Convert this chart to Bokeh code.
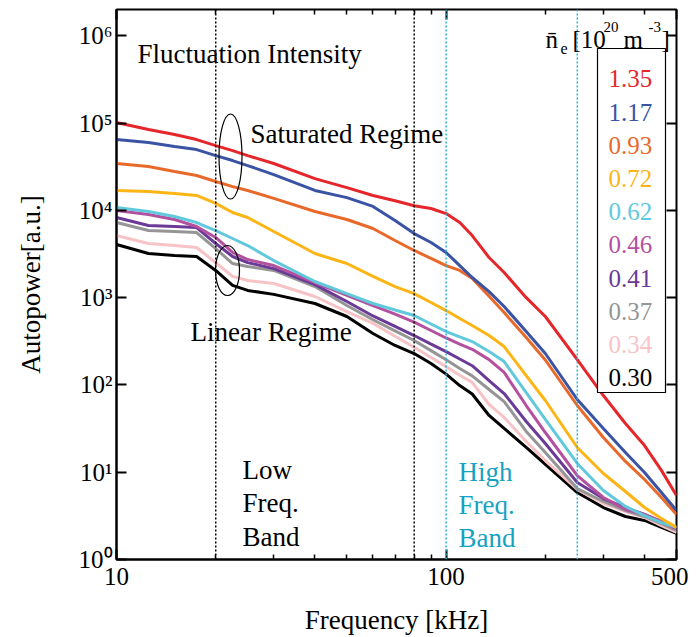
from bokeh.plotting import figure
from bokeh.models import Span, Label, FixedTicker, BoxAnnotation, LogAxis, Range1d, CustomJSTickFormatter
from bokeh.embed import file_html
from bokeh.resources import INLINE
import math

# ---------------- data ----------------
freq_khz = [10, 12.5, 15, 17.5, 20, 22.5, 25, 30, 40, 50, 60, 70, 80, 90, 100,
            110, 120, 135, 150, 175, 200, 250, 300, 350, 400, 450, 500]

density_labels = ["1.35", "1.17", "0.93", "0.72", "0.62", "0.46", "0.41", "0.37", "0.34", "0.30"]
colors = ["#e5262b", "#3b53a4", "#e8692a", "#fdb515", "#62c9dd",
          "#b3519f", "#6b3a97", "#959595", "#f7c3c6", "#000000"]

p_135 = [101400, 84300, 73900, 64700, 55200, 48400, 42400, 34400, 23100, 18200, 14800, 12900, 11300, 10500, 9190,
         7250, 5140, 2880, 1940, 1000, 608, 195, 75.6, 36.1, 20.2, 10.5, 5.41]
p_117 = [64700, 59800, 53800, 49700, 42400, 37200, 32600, 25700, 16900, 14000, 11100, 7640, 5420, 4280, 3290,
         2330, 1700, 1170, 791, 409, 229, 68.1, 31.7, 16.8, 9.93, 5.85, 3.64]
p_093 = [34400, 31800, 27800, 25100, 21400, 18700, 16900, 13700, 9690, 7850, 6200, 4510, 3470, 2810, 2330,
         2050, 1660, 1040, 675, 349, 193, 58.1, 25.0, 13.3, 8.25, 5.13, 3.28]
p_072 = [16900, 16400, 15600, 14800, 12000, 9440, 8280, 5720, 3200, 2460, 1750, 1340, 1110, 879, 711,
         577, 480, 368, 275, 128, 66.3, 19.2, 9.66, 6.01, 3.94, 2.95, 2.33]
p_062 = [10800, 9690, 8500, 7250, 5870, 4760, 3950, 2660, 1530, 1110, 857, 721, 624, 499, 409,
         356, 314, 241, 185, 81.8, 40.2, 12.6, 6.17, 4.05, 3.19, 2.65, 2.33]
p_046 = [9950, 8960, 7850, 6530, 4890, 3290, 2730, 2330, 1490, 1060, 812, 646, 523, 420, 345,
         294, 256, 195, 139, 58.1, 28.5, 9.16, 5.13, 3.74, 3.28, 2.72, 2.27]
p_041 = [8280, 6700, 6530, 6350, 4170, 2960, 2520, 2150, 1410, 902, 617, 468, 368, 294, 241,
         198, 166, 112, 79.7, 38.1, 21.3, 7.62, 4.99, 3.94, 3.28, 2.72, 2.27]
p_037 = [7250, 5870, 5720, 5570, 3650, 2460, 2270, 2050, 1340, 812, 558, 416, 323, 247, 194,
         154, 127, 88.6, 64.5, 29.3, 16.8, 6.50, 4.62, 3.64, 3.11, 2.58, 2.15]
p_034 = [5140, 4170, 3950, 3750, 2520, 1750, 1570, 1450, 1030, 693, 507, 361, 270, 206, 162,
         129, 107, 59.7, 42.4, 22.5, 13.6, 6.34, 4.38, 3.55, 3.03, 2.45, 2.04]
p_030 = [4060, 3200, 3030, 2960, 2050, 1380, 1210, 1090, 857, 608, 388, 283, 229, 176, 133,
         98.4, 78.7, 44.7, 31.7, 19.2, 12.3, 5.85, 3.94, 3.11, 2.80, 2.33, 1.99]

series = [p_135, p_117, p_093, p_072, p_062, p_046, p_041, p_037, p_034, p_030]

x_tick_values = [10, 100, 500]
x_tick_labels = ["10", "100", "500"]
x_minor_ticks = [20, 30, 40, 50, 60, 70, 80, 90, 200, 300, 400]
y_tick_values = [1, 10, 100, 1000, 10000, 100000, 1000000]
y_tick_labels = ["10\u2070", "10\u00b9", "10\u00b2", "10\u00b3", "10\u2074", "10\u2075", "10\u2076"]

low_band_edges = [20, 80]
high_band_edges = [100, 250]

# ---------------- figure ----------------
FONT = "Liberation Serif"
X_MIN, X_MAX = 10, 500
Y_MIN, Y_MAX = 1, 2.0e6
FW, FH = 560, 550

p = figure(x_axis_type="log", y_axis_type="log",
           x_range=Range1d(X_MIN, X_MAX), y_range=Range1d(Y_MIN, Y_MAX),
           frame_width=FW, frame_height=FH,
           min_border_left=116, min_border_right=12, min_border_top=9, min_border_bottom=70,
           output_backend="svg", toolbar_location=None)
p.xgrid.visible = False
p.ygrid.visible = False
p.outline_line_color = "black"
p.outline_line_width = 2
p.background_fill_color = "white"
p.border_fill_color = "white"

# helpers: place annotations at positions measured in the reference picture
FRAME_L, FRAME_B = 116, 559
def fx(px):
    return 10 ** (math.log10(X_MIN) + (px - FRAME_L) / FW * (math.log10(X_MAX) - math.log10(X_MIN)))
def fy(py):
    return 10 ** (math.log10(Y_MIN) + (FRAME_B - py) / FH * (math.log10(Y_MAX) - math.log10(Y_MIN)))

def style_axis(ax):
    ax.axis_line_width = 2
    ax.axis_line_color = "black"
    ax.major_tick_in = 10
    ax.major_tick_out = 0
    ax.minor_tick_in = 5
    ax.minor_tick_out = 0
    ax.major_tick_line_width = 2
    ax.major_tick_line_color = "black"
    ax.minor_tick_line_width = 1.5
    ax.minor_tick_line_color = "black"
    ax.major_label_text_font = FONT
    ax.major_label_text_font_size = "25px"
    ax.major_label_text_color = "black"
    ax.major_label_standoff = 8
    ax.axis_label_text_font = FONT
    ax.axis_label_text_font_style = "normal"
    ax.axis_label_text_font_size = "27px"
    ax.axis_label_text_color = "black"

xa = p.xaxis[0]
ya = p.yaxis[0]
xa.ticker = FixedTicker(ticks=x_tick_values, minor_ticks=x_minor_ticks)
ya.ticker = FixedTicker(ticks=y_tick_values, minor_ticks=[])
xa.major_label_overrides = dict(zip(x_tick_values, x_tick_labels))
ya.major_label_overrides = dict(zip(y_tick_values, y_tick_labels))
style_axis(xa)
style_axis(ya)
ya.major_label_standoff = 4
xa.axis_label = "Frequency [kHz]"
ya.axis_label = "Autopower[a.u.]"
xa.axis_label_standoff = 17
ya.axis_label_standoff = 30

blank = CustomJSTickFormatter(code="return ''")
top = LogAxis(ticker=FixedTicker(ticks=x_tick_values, minor_ticks=x_minor_ticks), formatter=blank)
right = LogAxis(ticker=FixedTicker(ticks=y_tick_values, minor_ticks=[]), formatter=blank)
for ax in (top, right):
    style_axis(ax)
    ax.major_label_standoff = 0
    ax.major_label_text_font_size = "10px"
    ax.axis_line_color = None
p.add_layout(top, "above")
p.add_layout(right, "right")

# band boundaries
for f in low_band_edges:
    p.add_layout(Span(location=f, dimension="height", line_color="black",
                      line_dash="2 2", line_width=1.5))
for f in high_band_edges:
    p.add_layout(Span(location=f, dimension="height", line_color="#27b4d8",
                      line_dash="2 2", line_width=1.5))

# spectra (lowest density drawn first)
for vals, c in reversed(list(zip(series, colors))):
    p.line(freq_khz, vals, line_color=c, line_width=3)

# regime ellipses
p.ellipse(x=[fx(230), fx(227)], y=[fy(156), fy(270)], width=[23, 24], height=[85, 50],
          width_units="screen", height_units="screen",
          fill_color=None, line_color="black", line_width=1.2)

def add_text(px, py, txt, color="black", size="27px"):
    p.add_layout(Label(x=fx(px), y=fy(py), text=txt, text_color=color,
                       text_font=FONT, text_font_size=size, text_baseline="alphabetic",
                       text_align="left"))

add_text(137, 53, "Fluctuation Intensity")
add_text(250, 133, "Saturated Regime")
add_text(190, 331, "Linear Regime")
for i, w in enumerate(["Low", "Freq.", "Band"]):
    add_text(242, 469 + 33.5 * i, w)
for i, w in enumerate(["High", "Freq.", "Band"]):
    add_text(458, 471 + 33 * i, w, color="#17a2c2")

# legend box
p.add_layout(BoxAnnotation(left=fx(597), right=fx(665), top=fy(48), bottom=fy(392),
                           fill_color="white", fill_alpha=1.0,
                           line_color="black", line_width=1.2, line_alpha=1.0))
for i, (lab, c) in enumerate(zip(density_labels, colors)):
    add_text(608, 78.3 + 33.2 * i, lab, color=c, size="25px")

# legend header: n̄e [10^20 m^-3]
add_text(545, 39, "n\u0304", size="25px")
add_text(560, 48, "e", size="16px")
add_text(572, 39, "[10", size="25px")
add_text(603, 26, "20", size="15px")
add_text(623, 39, "m", size="25px")
add_text(648, 26, "-3", size="15px")
add_text(661, 39, "]", size="25px")

open("out.html", "w").write(file_html(p, INLINE))
